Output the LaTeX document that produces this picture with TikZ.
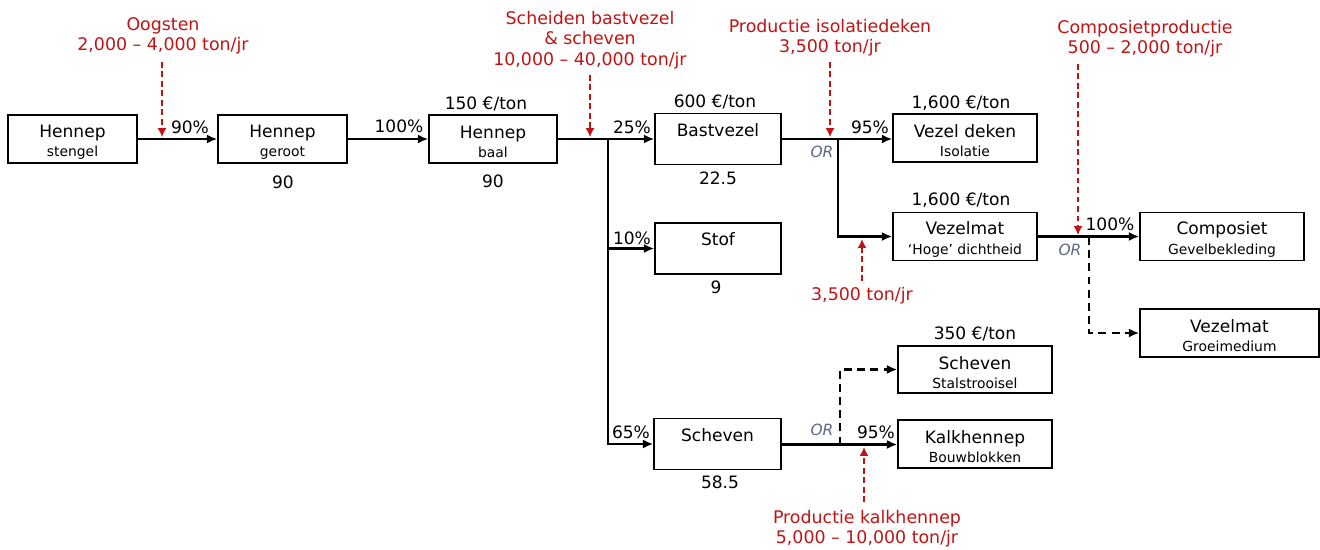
\documentclass[tikz,border=0pt]{standalone}
\usepackage{fontspec}
\setmainfont{DejaVu Sans}
\usetikzlibrary{arrows.meta}
\definecolor{rd}{RGB}{192,20,20}
\definecolor{orc}{RGB}{95,105,135}
\begin{document}
\begin{tikzpicture}[x=0.02cm,y=-0.02cm,
  box/.style 2 args={draw, line width=0.8pt, minimum width=#1*0.02cm, minimum height=#2*0.02cm, inner sep=0pt, align=center, font=\fontsize{9.7}{11}\selectfont},
  txt/.style={inner sep=0pt, font=\fontsize{9.7}{11.2}\selectfont},
  rtxt/.style={inner sep=0pt, align=center, text=rd, font=\fontsize{9.9}{11.6}\selectfont},
  ortxt/.style={inner sep=0pt, text=orc, font=\fontsize{8.8}{10}\selectfont\itshape},
  ln/.style={line width=1.3pt},
  arr/.style={line width=1.3pt, -{Latex[length=6pt,width=5.2pt]}},
  darr/.style={line width=1.3pt, dash pattern=on 4.5pt off 3pt, -{Latex[length=6pt,width=5.2pt]}},
  rarr/.style={line width=0.8pt, rd, dash pattern=on 3.2pt off 2.2pt, -{Latex[length=5pt,width=5pt]}}
]
\useasboundingbox (0,0) rectangle (1320,549);
\newcommand{\sub}[1]{{\fontsize{7.9}{9}\selectfont #1}}
\newcommand{\tp}{\rule{0pt}{10.6pt}}

% boxes
\node[box={129}{48}] (stengel) at (72.5,139) {\tp Hennep\\\sub{stengel}};
\node[box={129}{48}] (geroot) at (282.5,139) {\tp Hennep\\\sub{geroot}};
\node[box={128}{48}] (baal) at (493,139) {\tp Hennep\\\sub{baal}};
\node[box={126}{51}] (bast) at (718,139) {\tp Bastvezel\\\sub{\strut}};
\node[box={126}{51}] (stof) at (718,248.5) {\tp Stof\\\sub{\strut}};
\node[box={127}{51}] (schev) at (717.5,444) {\tp Scheven\\\sub{\strut}};
\node[box={144}{48}] (deken) at (965,138) {\tp Vezel deken\\\sub{Isolatie}};
\node[box={144}{48}] (vmat) at (965,236.5) {\tp Vezelmat\\\sub{‘Hoge’ dichtheid}};
\node[box={154}{47}] (stal) at (975,369.5) {\tp Scheven\\\sub{Stalstrooisel}};
\node[box={154}{48}] (kalk) at (975,444) {\tp Kalkhennep\\\sub{Bouwblokken}};
\node[box={164}{48}] (comp) at (1222,236.5) {\tp Composiet\\\sub{Gevelbekleding}};
\node[box={179}{48}] (groei) at (1229.5,333) {\tp Vezelmat\\\sub{Groeimedium}};

% prices and quantities
\node[txt] (p1) at (486,104) {150 €/ton};
\node[txt] (p2) at (715,102) {600 €/ton};
\node[txt] (p3) at (961,103) {1,600 €/ton};
\node[txt] (p4) at (961,200) {1,600 €/ton};
\node[txt] (p5) at (975,334) {350 €/ton};
\node[txt] (q1) at (283,182) {90};
\node[txt] (q2) at (493,181) {90};
\node[txt] (q3) at (718,178) {22.5};
\node[txt] (q4) at (716,287) {9};
\node[txt] (q5) at (720,482) {58.5};

% percentages
\node[txt] (c1) at (190,127) {90\%};
\node[txt] (c2) at (399,126) {100\%};
\node[txt] (c3) at (632,127) {25\%};
\node[txt] (c4) at (632,238) {10\%};
\node[txt] (c5) at (631,432) {65\%};
\node[txt] (c6) at (870,127) {95\%};
\node[txt] (c7) at (1110,224) {100\%};
\node[txt] (c8) at (876,432) {95\%};

% OR labels
\node[ortxt] (or1) at (822,152) {OR};
\node[ortxt] (or2) at (1070,250) {OR};
\node[ortxt] (or3) at (822,430) {OR};

% junctions
\coordinate (j1) at (608,139);
\coordinate (j2) at (838,139);
\coordinate (j3) at (1089,237);
\coordinate (j4) at (840,444.5);

% connectors
\draw[arr] (stengel.east) -- (geroot.west);
\draw[arr] (geroot.east) -- (baal.west);
\draw[ln] (baal.east) -- (j1);
\draw[arr] (j1) -- (bast.west);
\draw[arr] (j1) |- (stof.west);
\draw[arr] (j1) |- (schev.west);
\draw[arr] (bast.east |- j2) -- (deken.west |- j2);
\draw[arr] (j2) |- (vmat.west);
\draw[arr] (vmat.east) -- (comp.west);
\draw[darr] (j3) |- (groei.west);
\draw[arr] (schev.east |- j4) -- (kalk.west |- j4);
\draw[darr] (j4) |- (stal.west);

% red process labels
\node[rtxt] (r1) at (163,36) {Oogsten\\2,000 – 4,000 ton/jr};
\node[rtxt] (r2) at (590,40) {Scheiden bastvezel\\\& scheven\\10,000 – 40,000 ton/jr};
\node[rtxt] (r3) at (830,38) {Productie isolatiedeken\\3,500 ton/jr};
\node[rtxt] (r4) at (1145,39) {Composietproductie\\500 – 2,000 ton/jr};
\node[rtxt] (r5) at (862,296) {3,500 ton/jr};
\node[rtxt] (r6) at (867,529) {Productie kalkhennep\\5,000 – 10,000 ton/jr};

\coordinate (a1s) at (162,62);  \coordinate (a1e) at (162,137);
\coordinate (a2s) at (590,75);  \coordinate (a2e) at (590,137);
\coordinate (a3s) at (830,62);  \coordinate (a3e) at (830,137);
\coordinate (a4s) at (1078,64); \coordinate (a4e) at (1078,235);
\coordinate (a5s) at (862,281); \coordinate (a5e) at (862,239);
\coordinate (a6s) at (864,502); \coordinate (a6e) at (864,447);
\draw[rarr] (a1s) -- (a1e);
\draw[rarr] (a2s) -- (a2e);
\draw[rarr] (a3s) -- (a3e);
\draw[rarr] (a4s) -- (a4e);
\draw[rarr] (a5s) -- (a5e);
\draw[rarr] (a6s) -- (a6e);
\end{tikzpicture}
\end{document}
